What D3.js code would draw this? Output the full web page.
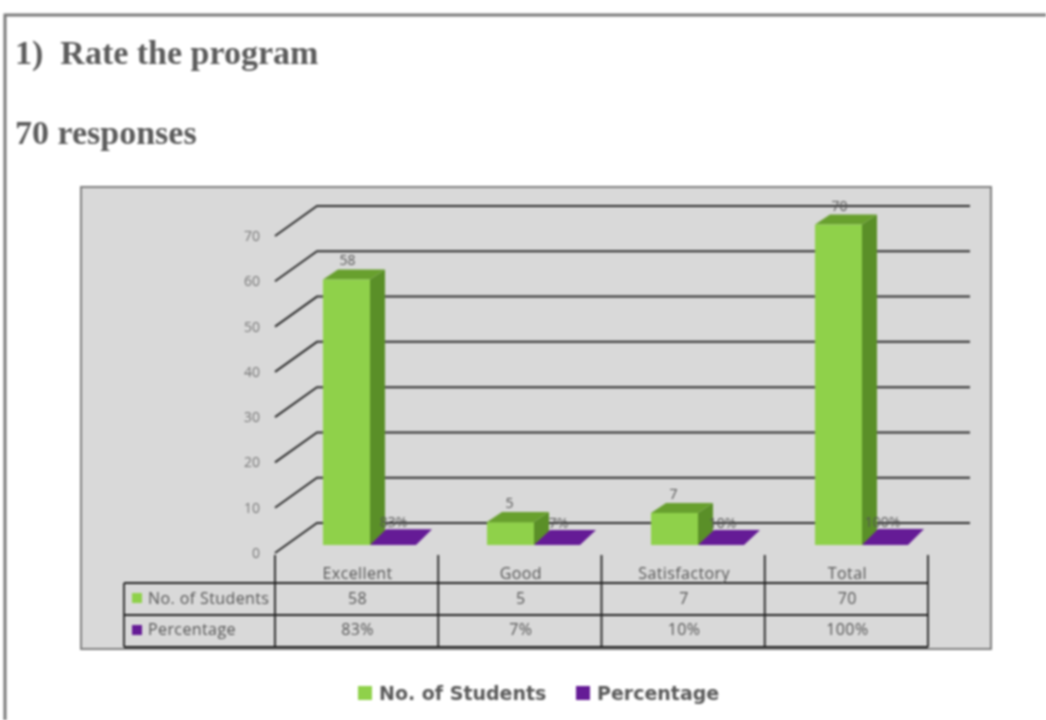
<!DOCTYPE html>
<html><head><meta charset="utf-8">
<script src="https://cdn.jsdelivr.net/npm/d3@7"></script>
<style>html,body{margin:0;padding:0;background:#fff;overflow:hidden}svg{display:block;filter:blur(.85px)}</style>
</head><body><svg id="c" width="1046" height="720"></svg>
<script>
const categories = ["Excellent","Good","Satisfactory","Total"];
const students = [58,5,7,70];
const percentage = [83,7,10,100];
const seriesNames = ["No. of Students","Percentage"];
const yTicks = [0,10,20,30,40,50,60,70];
const title = "1)  Rate the program";
const subtitle = "70 responses";

const green="#8fd14a", greenSide="#5a8f28", greenTop="#68a02e", purple="#651b96", textCol="#555";
const sansFont="'Open Sans',sans-serif";
const svg=d3.select("#c");
const W=1046,H=720;
svg.append("rect").attr("width",W).attr("height",H).attr("fill","#fff");
svg.append("path").attr("d","M5,720V15H1046").attr("fill","none").attr("stroke","#7a7a7a").attr("stroke-width",3);
svg.append("text").text(title).attr("x",15).attr("y",64).style("white-space","pre")
  .attr("font-family","'Liberation Serif',serif").attr("font-weight","bold").attr("font-size",34).attr("fill","#5c5c5c");
svg.append("text").text(subtitle).attr("x",15).attr("y",144)
  .attr("font-family","'Liberation Serif',serif").attr("font-weight","bold").attr("font-size",34).attr("fill","#5c5c5c");

// panel
svg.append("rect").attr("x",81).attr("y",187).attr("width",910).attr("height",462)
  .attr("fill","#d9d9d9").attr("stroke","#7f7f7f").attr("stroke-width",2);

const x=d3.scaleBand().domain(categories).range([275,928]);
const xBar=d3.scaleBand().domain(categories).range([275,931]);
const inner=d3.scaleBand().domain(seriesNames).range([48,142]);
const yAxisS=d3.scaleLinear().domain([0,70]).range([553,236]);
const yBar=d3.scaleLinear().domain([0,70]).range([545,224.5]);
const pctH=d3.scaleLinear().domain([0,100]).range([0,1]);
const wallDx=42,wallDy=-30,barDx=15,barDy=-10,floorDx=16,floorDy=-15;
const line=d3.line();

// axis labels
const axisG=svg.append("g").attr("transform","translate(260,0)")
  .call(d3.axisLeft(yAxisS).tickValues(yTicks).tickSize(0).tickPadding(0));
axisG.select(".domain").remove();
axisG.selectAll("text").attr("font-family",sansFont).attr("font-size",14).attr("fill","#777").attr("x",0);

// gridlines
const grid=svg.append("g").attr("fill","none").attr("stroke","#2c2c2c").attr("stroke-width",2);
grid.selectAll("path").data(yTicks).join("path").attr("d",v=>line([
  [275,yAxisS(v)],[275+wallDx,yAxisS(v)+wallDy],[970,yAxisS(v)+wallDy]]));

// bars
const bw=inner.bandwidth();
const bars=svg.append("g");
categories.forEach((c,i)=>{
  const x0=xBar(c)+inner(seriesNames[0]), yt=yBar(students[i]), yb=yBar(0);
  bars.append("path").attr("fill",greenSide).attr("d",line([[x0+bw,yt],[x0+bw+barDx,yt+barDy],[x0+bw+barDx,yb+barDy],[x0+bw,yb]])+"Z");
  bars.append("path").attr("fill",greenTop).attr("d",line([[x0,yt],[x0+barDx,yt+barDy],[x0+bw+barDx,yt+barDy],[x0+bw,yt]])+"Z");
  bars.append("rect").attr("x",x0).attr("y",yt).attr("width",bw).attr("height",yb-yt).attr("fill",green);
  const x1=xBar(c)+inner(seriesNames[1]), h=pctH(percentage[i]);
  bars.append("path").attr("fill",purple).attr("d",line([[x1,yb],[x1+floorDx,yb+floorDy-h],[x1+bw+floorDx-1,yb+floorDy-h],[x1+bw-1,yb]])+"Z");
  bars.append("text").text(students[i]).attr("x",x0+bw/2-(i==0||i==3?-1:1)).attr("y",yt+barDy-4)
    .attr("text-anchor","middle").attr("font-family",sansFont).attr("font-size",14).attr("fill","#555");
  bars.append("text").text(percentage[i]+"%").attr("x",x1+bw/2-(i==3?3:i==0?0:-1)).attr("y",yb+floorDy-h-2)
    .attr("text-anchor","middle").attr("font-family",sansFont).attr("font-size",14).attr("fill","#555");
});

// data table
const rowsY=[583,615,647];
const t=svg.append("g").attr("fill","none").attr("stroke","#222").attr("stroke-width",1.8);
rowsY.forEach(y=>t.append("path").attr("d",line([[124,y],[928,y]])));
t.append("path").attr("d",line([[124,583],[124,647]]));
[...categories.map(c=>x(c)),928].forEach(px=>t.append("path").attr("d",line([[px,555],[px,647]])));
const cell=(s,px,py,anchor)=>svg.append("text").text(s).attr("x",px).attr("y",py)
  .attr("text-anchor",anchor||"middle").attr("font-family",sansFont).attr("font-size",16).attr("letter-spacing",.4).attr("fill",textCol);
categories.forEach((c,i)=>{
  const cx=x(c)+x.bandwidth()/2+1;
  cell(c,cx,579); cell(students[i],cx,604); cell(percentage[i]+"%",cx,635);
});
svg.append("rect").attr("x",132).attr("y",593).attr("width",10).attr("height",10).attr("fill",green);
svg.append("rect").attr("x",132).attr("y",625).attr("width",10).attr("height",10).attr("fill",purple);
cell(seriesNames[0],148,604,"start");
cell(seriesNames[1],148,635,"start");

// legend
const lg=[[358,seriesNames[0],green],[576,seriesNames[1],purple]];
lg.forEach(([px,s,col])=>{
  svg.append("rect").attr("x",px).attr("y",686).attr("width",14).attr("height",14).attr("fill",col);
  svg.append("text").text(s).attr("x",px+21).attr("y",700).attr("font-family","'DejaVu Sans',sans-serif")
    .attr("font-size",19).attr("font-weight","bold").attr("fill","#5a5a5a").attr("letter-spacing",0);
});
</script></body></html>
